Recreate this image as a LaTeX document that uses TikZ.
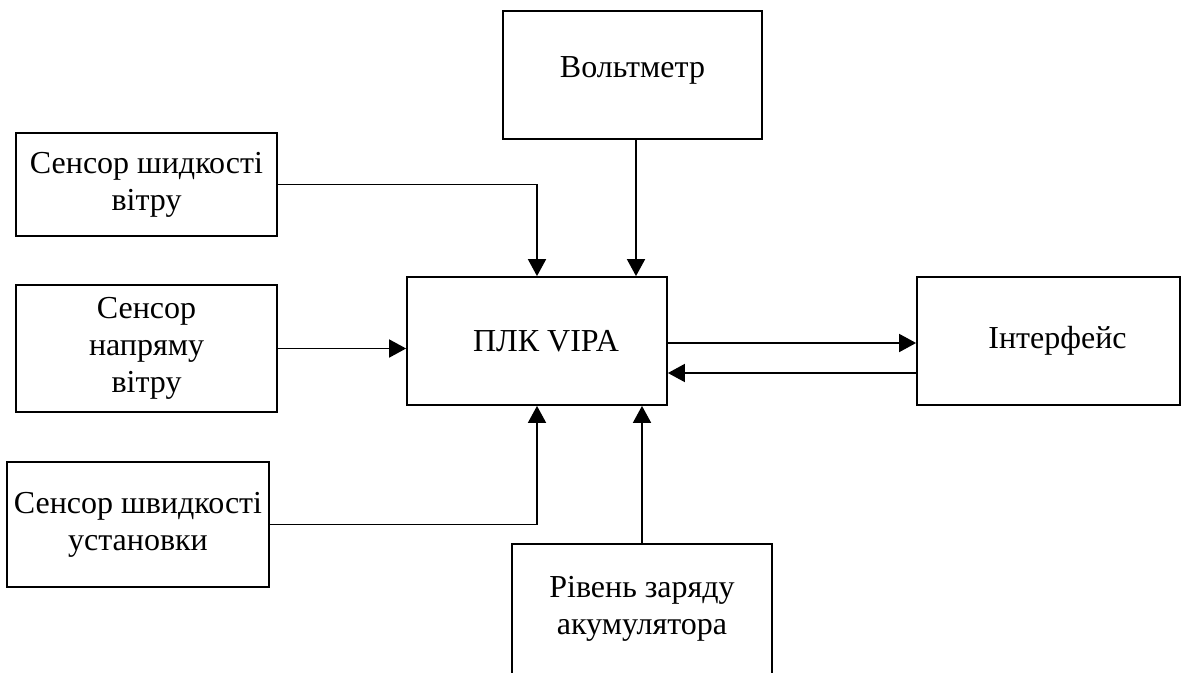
\documentclass[tikz,border=0pt]{standalone}
\usepackage{fontspec}
\setmainfont{Liberation Serif}
\usetikzlibrary{arrows.meta,calc}

\tikzset{
  blok/.style={draw, line width=1.8pt, align=center, inner sep=0pt,
               font=\fontsize{32}{37}\selectfont},
  conn/.style={line width=1.8pt, -{Triangle[length=17pt,width=18pt]}},
  wire/.style={line width=1.8pt}
}

\begin{document}
\begin{tikzpicture}[x=1pt,y=-1pt]
\def\bw{261} %box width
\def\bh{128} %box height

\useasboundingbox (0,0) rectangle (1185,672); %page size

% PLC in the middle
\node [blok, minimum width=260pt, minimum height=\bh pt] (plc) at (537,341) {\hspace*{18pt}ПЛК VIPA};

% the other boxes
\node [blok, minimum width=259pt, minimum height=\bh pt] (volt) at (632.5,75) {Вольтметр\\[-21pt]};
\node [blok, minimum width=\bw pt, minimum height=103pt] (sws) at (146.5,184.5) {Сенсор шидкості\\вітру};
\node [blok, minimum width=\bw pt, minimum height=127pt] (swd) at (146.5,348.5) {Сенсор\\напряму\\вітру};
\node [blok, minimum width=262pt, minimum height=125pt] (sis) at (138,524.5) {Сенсор швидкості\\установки};
\node [blok, minimum width=263pt, minimum height=\bh pt] (intf) at (1048.5,341) {\hspace*{18pt}Інтерфейс};
\node [blok, minimum width=260pt, minimum height=130pt] (bat) at (642,609) {Рівень заряду\\акумулятора};

% connectors into the PLC
\draw [conn] (sws.east) -| (plc.north);
\draw [conn] ([xshift=3.5pt]volt.south) -- ([xshift=3.5pt]volt.south |- plc.north);
\draw [conn] (swd.east) -- (swd.east -| plc.west);
\draw [conn] (sis.east) -| (plc.south);
\draw [conn] (bat.north) -- (bat.north |- plc.south);

% PLC <-> interface
\draw [conn] ([yshift=-2pt]plc.east) -- ([yshift=-2pt]plc.east -| intf.west);
\draw [conn] ([yshift=-32pt]intf.west) -- ([yshift=-32pt]intf.west -| plc.east);

\end{tikzpicture}
\end{document}
